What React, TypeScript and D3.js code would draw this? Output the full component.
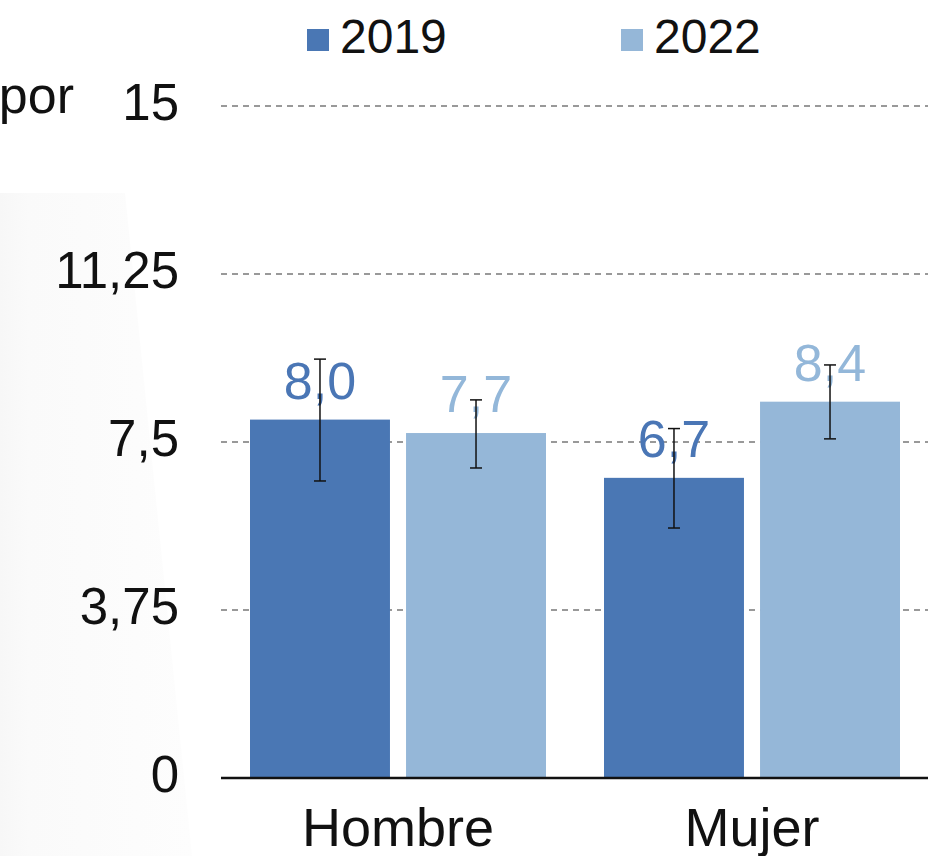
import React from "react";
import * as d3 from "d3";

const categories = ["Hombre", "Mujer"];
const seriesNames = ["2019", "2022"];
const values2019 = [8.0, 6.7];
const values2022 = [7.7, 8.4];
const labels2019 = ["8,0", "6,7"];
const labels2022 = ["7,7", "8,4"];
const errLow2019 = [6.63, 5.58];
const errHigh2019 = [9.35, 7.8];
const errLow2022 = [6.92, 7.57];
const errHigh2022 = [8.44, 9.22];
const yTicks = [0, 3.75, 7.5, 11.25, 15];
const yTickLabels = ["0", "3,75", "7,5", "11,25", "15"];
const colors = ["#4a77b4", "#95b7d8"];
const labelColors = ["#4a76b5", "#93b7d9"];

const W = 948;
const H = 856;
const FONT = "'Liberation Sans', Arial, Helvetica, sans-serif";

export default function App() {
  const y = d3.scaleLinear().domain([0, 15]).range([778, 106]);
  const x0 = d3
    .scaleBand<string>()
    .domain(categories)
    .range([221, 929])
    .paddingInner(58 / 354)
    .paddingOuter(29 / 354);
  const x1 = d3
    .scaleBand<string>()
    .domain(seriesNames)
    .range([0, x0.bandwidth()])
    .paddingInner(0.103);

  const series = [
    { name: "2019", values: values2019, labels: labels2019, lo: errLow2019, hi: errHigh2019 },
    { name: "2022", values: values2022, labels: labels2022, lo: errLow2022, hi: errHigh2022 },
  ];

  return (
    <svg
      width={W}
      height={H}
      style={{ position: "absolute", left: 0, top: 0, background: "#fff" }}
      fontFamily={FONT}
    >
      <defs>
        <linearGradient id="shade" x1="0" y1="0" x2="1" y2="0">
          <stop offset="0" stopColor="#f7f7f7" />
          <stop offset="0.15" stopColor="#fafafa" />
          <stop offset="1" stopColor="#fdfdfd" />
        </linearGradient>
      </defs>
      <rect x={0} y={0} width={W} height={H} fill="#fff" />
      <polygon points="0,193 125,193 192,856 0,856" fill="url(#shade)" />

      {/* partial title */}
      <text x={74} y={113} fontSize={52} textAnchor="end" fill="#111">
        por
      </text>

      {/* gridlines */}
      {yTicks.map((t, i) =>
        t === 0 ? null : (
          <line
            key={"g" + i}
            x1={221}
            x2={928}
            y1={y(t)}
            y2={y(t)}
            stroke="#999999"
            strokeWidth={2.2}
            strokeDasharray="6,5"
          />
        )
      )}

      {/* y tick labels */}
      {yTicks.map((t, i) => (
        <text
          key={"t" + i}
          x={179}
          y={y(t) + 13.5}
          fontSize={51}
          textAnchor="end"
          fill="#111"
        >
          {yTickLabels[i]}
        </text>
      ))}

      {/* bars */}
      {series.map((s, si) =>
        categories.map((c, ci) => {
          const bx = (x0(c) ?? 0) + (x1(s.name) ?? 0);
          return (
            <rect
              key={"b" + si + ci}
              x={bx}
              y={y(s.values[ci])}
              width={x1.bandwidth()}
              height={y(0) - y(s.values[ci])}
              fill={colors[si]}
            />
          );
        })
      )}

      {/* value labels */}
      {series.map((s, si) =>
        categories.map((c, ci) => {
          const cx = (x0(c) ?? 0) + (x1(s.name) ?? 0) + x1.bandwidth() / 2;
          return (
            <text
              key={"l" + si + ci}
              x={cx}
              y={y(s.values[ci]) - 21}
              fontSize={52}
              textAnchor="middle"
              fill={labelColors[si]}
            >
              {s.labels[ci]}
            </text>
          );
        })
      )}

      {/* error bars */}
      {series.map((s, si) =>
        categories.map((c, ci) => {
          const cx = (x0(c) ?? 0) + (x1(s.name) ?? 0) + x1.bandwidth() / 2;
          const yt = y(s.hi[ci]);
          const yb = y(s.lo[ci]);
          return (
            <g key={"e" + si + ci} stroke="#111" strokeWidth={1.5}>
              <line x1={cx} x2={cx} y1={yt} y2={yb} />
              <line x1={cx - 6} x2={cx + 6} y1={yt} y2={yt} />
              <line x1={cx - 6} x2={cx + 6} y1={yb} y2={yb} />
            </g>
          );
        })
      )}

      {/* x axis */}
      <line x1={221} x2={928} y1={y(0)} y2={y(0)} stroke="#111" strokeWidth={2.5} />
      {categories.map((c, i) => (
        <text
          key={"c" + i}
          x={(x0(c) ?? 0) + x0.bandwidth() / 2}
          y={846}
          fontSize={54}
          textAnchor="middle"
          fill="#111"
        >
          {c}
        </text>
      ))}

      {/* legend */}
      {seriesNames.map((n, i) => {
        const lx = [307, 621][i];
        return (
          <g key={"lg" + i}>
            <rect x={lx} y={29} width={22} height={22} fill={colors[i]} />
            <text x={lx + 33} y={53} fontSize={48} fill="#111">
              {n}
            </text>
          </g>
        );
      })}
    </svg>
  );
}
